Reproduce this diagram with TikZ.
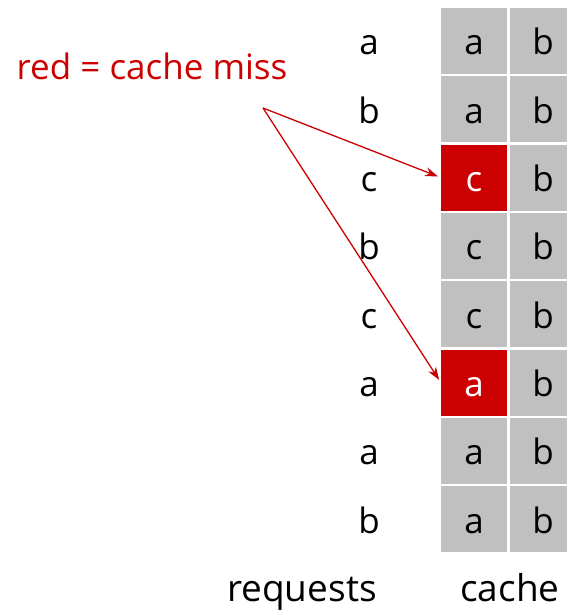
\documentclass[tikz,border=0pt]{standalone}
\usepackage{fontspec}
\setmainfont{Open Sans}
\usetikzlibrary{arrows.meta}
\definecolor{missred}{RGB}{204,0,0}
\definecolor{cellgray}{RGB}{192,192,192}
\begin{document}
\begin{tikzpicture}[x=1pt,y=1pt,
  letters/.style={font=\fontsize{35}{35}\selectfont,text height=28pt,text depth=0pt},
  cell/.style={letters,fill=cellgray,minimum width=66pt,minimum height=66pt,inner sep=0pt},
  misscell/.style={cell,fill=missred,text=white},
  req/.style={letters,inner sep=0pt},
  caption/.style={font=\fontsize{37}{37}\selectfont,inner sep=0pt,anchor=base},
  missarrow/.style={draw=missred,line width=1.3pt,-{Stealth[length=13pt,width=9pt]}}]
\useasboundingbox (0,0) rectangle (566,-612);
% request sequence and cache contents, one row per request
\foreach \i/\r/\p/\q/\st in {1/a/a/b/cell,2/b/a/b/cell,3/c/c/b/misscell,4/b/c/b/cell,
    5/c/c/b/cell,6/a/a/b/misscell,7/a/a/b/cell,8/b/a/b/cell}{
  \pgfmathsetmacro{\yy}{-41-68.3*(\i-1)}
  \node[req] (r\i) at (369,\yy) {\r};
  \node[\st] (p\i) at (474,\yy) {\p};
  \node[cell] (q\i) at (543,\yy) {\q};
}
\node[caption] (reqlabel) at (302,-601) {requests};
\node[caption] (cachelabel) at (510,-601) {cache};
\node[caption,text=missred,font=\fontsize{35}{35}\selectfont] (legend) at (152,-80) {red = cache miss};
\coordinate (src) at (263,-108);
\draw[missarrow,shorten >=3pt] (src) -- (p3.west);
\draw[missarrow,shorten >=3pt] (src) -- (p6.west);
\end{tikzpicture}
\end{document}
